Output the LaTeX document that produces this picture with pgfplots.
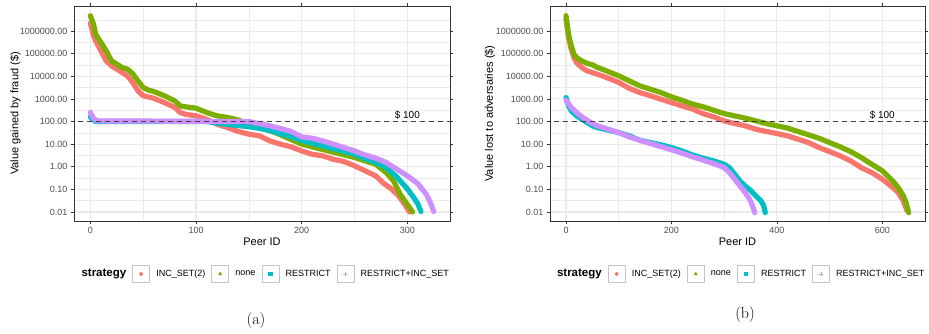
\documentclass[border=0pt]{standalone}
\usepackage{fontspec}
\usepackage{pgfplots}
\pgfplotsset{compat=1.18}
\newfontfamily\lib{Liberation Sans}
\definecolor{cRed}{HTML}{F8766D}
\definecolor{cGreen}{HTML}{7CAE00}
\definecolor{cCyan}{HTML}{00BFC4}
\definecolor{cPurple}{HTML}{C77CFF}
\definecolor{gridc}{HTML}{EBEBEB}
\definecolor{gtw}{HTML}{333333}
\definecolor{gth}{HTML}{4D4D4D}
\definecolor{keyb}{HTML}{C4C4C4}
\pgfplotsset{
  scale only axis,
  axis line style={gtw, line width=0.6pt},
  tick align=outside, major tick length=3pt, minor tick length=0pt,
  every tick/.style={gtw, line width=0.6pt},
  grid=both,
  major grid style={gridc, line width=1.1pt},
  minor grid style={gridc, line width=0.55pt},
  tick label style={font=\lib\fontsize{9}{10}\selectfont, text=gth},
  every axis x label/.style={at={(axis description cs:0.5,0)}, anchor=center, yshift=-20.7pt, font=\lib\fontsize{11}{13}\selectfont},
  every axis y label/.style={rotate=90, anchor=center, font=\lib\fontsize{11}{13}\selectfont},
  legend columns=-1,
  legend cell align=left,
  legend style={draw=none, fill=none, at={(axis description cs:0.5,-0.2465)}, anchor=center,
      font=\lib\fontsize{9}{10}\selectfont,
      nodes={inner sep=0pt},
      /tikz/every odd column/.append style={column sep=6.5pt},
      /tikz/every even column/.append style={column sep=6pt}},
}
\newcommand\keyimg[1]{\draw[keyb, line width=0.6pt, fill=white] (0pt,-8.5pt) rectangle (17pt,8.5pt);
     \draw[mark=#1, mark size=1.8pt, line width=0.6pt, mark options={solid}] plot coordinates {(8.5pt,0pt)};}
\begin{document}
\begin{tikzpicture}
\useasboundingbox (0pt,0pt) rectangle (929pt,334pt);
% ---------------- panel (a)
\begin{axis}[at={(74pt,113pt)}, anchor=south west, width=376pt, height=215pt,
  ymode=log, ymin=0.00398, ymax=1.29e7,
  xmin=-15.5, xmax=340.4,
  ytick={0.01,0.1,1,10,100,1000,10000,100000,1000000},
  yticklabels={0.01,0.10,1.00,10.00,100.00,1000.00,10000.00,100000.00,1000000.00},
  minor ytick={0.0316,0.316,3.16,31.6,316,3162,31623,316228,3162278},
  xtick={0,100,200,300}, xticklabels={0,100,200,300}, minor xtick={50,150,250},
  xlabel={Peer ID},
  ylabel={Value gained by fraud (\$)},
  ylabel style={at={(axis description cs:-0.1556,0.5)}}]
\addlegendimage{legend image code/.code={}}
\addlegendentry{\fontsize{11.5}{13}\selectfont\bfseries strategy}
\addplot[cRed, line width=5.2pt, line join=round, line cap=round, mark=none,
  legend image code/.code={\keyimg{*}}] coordinates {
(0,2.24e6) (3,6.16e5) (5,3.72e5) (10,1.35e5) (15,4.79e4) (20,2.88e4) (25,2.09e4) (30,1.48e4)
(35,1.05e4) (40,5370) (45,2290) (50,1380) (60,1070) (70,692) (80,417) (85,251) (90,209)
(100,178) (110,126) (120,75.9) (130,53.7) (140,36.3) (150,27.5) (160,23.4) (170,13.8)
(180,10) (190,7.59) (200,5.01) (210,3.55) (220,3.02) (230,2.14) (240,1.70) (250,1.10)
(260,0.661) (270,0.398) (278,0.178) (285,0.105) (292,0.0501) (298,0.02) (302,0.01)};
\addlegendentry{INC\_SET(2)}
\addplot[cGreen, line width=5.2pt, line join=round, line cap=round, mark=none,
  legend image code/.code={\keyimg{triangle*}}] coordinates {
(0,4.79e6) (3,2.04e6) (5,7.24e5) (10,3.16e5) (15,1.35e5) (20,4.79e4) (25,3.47e4) (30,2.45e4)
(35,2.09e4) (40,1.32e4) (45,6310) (50,3160) (55,2450) (60,2140) (70,1380) (80,813) (85,490)
(90,447) (100,389) (110,251) (120,178) (130,151) (140,117) (150,75.9) (160,53.7) (175,32.4)
(200,10) (225,5.01) (250,2.57) (260,1.82) (270,1.29) (280,0.55) (287,0.234) (293,0.063)
(300,0.0214) (305,0.01)};
\addlegendentry{none}
\addplot[cCyan, line width=5.2pt, line join=round, line cap=round, mark=none,
  legend image code/.code={\keyimg{square*}}] coordinates {
(0,158) (2,126) (5,100) (110,100) (120,85) (130,74) (140,66) (150,59) (160,50) (170,40)
(180,28.8) (190,21.4) (200,14.5) (210,11) (225,7.24) (240,4.79) (250,3.63) (260,2.29)
(270,1.58) (280,0.912) (290,0.355) (300,0.105) (306,0.0437) (310,0.0224) (313,0.0105)};
\addlegendentry{RESTRICT}
\addplot[cPurple!85!white, line width=5.2pt, line join=round, line cap=round, mark=none,
  legend image code/.code={\keyimg{+}}] coordinates {
(0,251) (1,200) (3,141) (6,107) (150,100) (160,81.3) (170,64.6) (180,49.0) (190,36.3)
(200,21) (210,18.2) (220,13.8) (230,10) (240,7.08) (250,5.01) (260,3.31) (270,2.40)
(280,1.55) (290,0.776) (300,0.398) (310,0.178) (318,0.0603) (322,0.0251) (325,0.0105)};
\addlegendentry{RESTRICT+INC\_SET}
\addplot[black!75, line width=1pt, dash pattern=on 5pt off 4pt, forget plot] coordinates {(-20,100) (345,100)};
\node[anchor=base, font=\lib\fontsize{10}{12}\selectfont, yshift=3pt] at (axis cs:300,100) {\$ 100};
\end{axis}
% ---------------- panel (b)
\begin{axis}[at={(550pt,113pt)}, anchor=south west, width=375pt, height=215pt,
  ymode=log, ymin=0.00398, ymax=1.29e7,
  xmin=-30.35, xmax=681,
  ytick={0.01,0.1,1,10,100,1000,10000,100000,1000000},
  yticklabels={0.01,0.10,1.00,10.00,100.00,1000.00,10000.00,100000.00,1000000.00},
  minor ytick={0.0316,0.316,3.16,31.6,316,3162,31623,316228,3162278},
  xtick={0,200,400,600}, xticklabels={0,200,400,600}, minor xtick={100,300,500},
  xlabel={Peer ID},
  ylabel={Value lost to adversaries (\$)},
  ylabel style={at={(axis description cs:-0.160,0.5)}}]
\addlegendimage{legend image code/.code={}}
\addlegendentry{\fontsize{11.5}{13}\selectfont\bfseries strategy}
\addplot[cRed, line width=5.2pt, line join=round, line cap=round, mark=none,
  legend image code/.code={\keyimg{*}}] coordinates {
(0,3.39e6) (3,1.02e6) (6,3.72e5) (10,1.58e5) (15,6.76e4) (20,4.07e4) (30,2.45e4) (40,1.74e4)
(60,1.23e4) (80,8320) (100,5370) (120,2950) (140,1910) (160,1380) (180,977) (200,692)
(220,490) (240,355) (260,224) (280,162) (300,107) (320,81.3) (340,64.6) (360,45.7)
(380,36.3) (400,29.5) (420,23.4) (440,16.6) (460,11.7) (480,7.08) (500,4.68) (520,3.02)
(540,1.82) (560,0.912) (580,0.55) (600,0.282) (620,0.120) (630,0.0724) (640,0.0309) (647,0.0112)};
\addlegendentry{INC\_SET(2)}
\addplot[cGreen, line width=5.2pt, line join=round, line cap=round, mark=none,
  legend image code/.code={\keyimg{triangle*}}] coordinates {
(0,4.79e6) (3,1.45e6) (6,5.25e5) (10,2.24e5) (15,9.55e4) (20,6.76e4) (30,4.79e4) (40,3.72e4)
(50,3.24e4) (60,2.45e4) (70,2.0e4) (80,1.62e4) (100,1.05e4) (120,6310) (140,3800) (160,2690)
(180,1910) (200,1230) (220,871) (240,589) (260,447) (280,316) (300,224) (320,178) (340,141)
(360,107) (380,81.3) (400,64.6) (420,51.3) (440,36.3) (460,25.7) (480,18.2) (500,11.7)
(520,7.59) (540,4.68) (560,2.57) (580,1.29) (600,0.661) (620,0.234) (630,0.120) (640,0.0513)
(645,0.0263) (650,0.0093)};
\addlegendentry{none}
\addplot[cCyan, line width=5.2pt, line join=round, line cap=round, mark=none,
  legend image code/.code={\keyimg{square*}}] coordinates {
(0,1150) (2,813) (5,490) (10,295) (20,178) (30,126) (40,91.2) (50,64.6) (60,53.7) (80,41.7)
(100,32.4) (120,23.4) (140,14.8) (160,11.7) (180,9.33) (200,7.08) (220,5.01) (240,3.31)
(260,2.40) (280,1.82) (300,1.29) (310,0.912) (320,0.468) (330,0.234) (340,0.141) (350,0.0912)
(360,0.0513) (370,0.0309) (375,0.0186) (378,0.0093)};
\addlegendentry{RESTRICT}
\addplot[cPurple!85!white, line width=5.2pt, line join=round, line cap=round, mark=none,
  legend image code/.code={\keyimg{+}}] coordinates {
(0,871) (3,692) (10,417) (20,251) (30,162) (40,115) (50,81.3) (60,64.6) (80,45.7) (100,32.4)
(120,20.9) (140,14.8) (160,10.7) (180,7.76) (200,5.62) (220,3.98) (240,2.75) (260,1.95)
(280,1.38) (300,0.912) (310,0.55) (320,0.282) (330,0.141) (340,0.0724) (350,0.0309)
(356,0.0132) (358,0.0093)};
\addlegendentry{RESTRICT+INC\_SET}
\addplot[black!75, line width=1pt, dash pattern=on 5pt off 4pt, forget plot] coordinates {(-40,100) (700,100)};
\node[anchor=base, font=\lib\fontsize{10}{12}\selectfont, yshift=3pt] at (axis cs:600,100) {\$ 100};
\end{axis}
\node[font=\fontsize{16}{19}\selectfont] at (256pt,13pt) {(a)};
\node[font=\fontsize{16}{19}\selectfont] at (745pt,19pt) {(b)};
\end{tikzpicture}
\end{document}
